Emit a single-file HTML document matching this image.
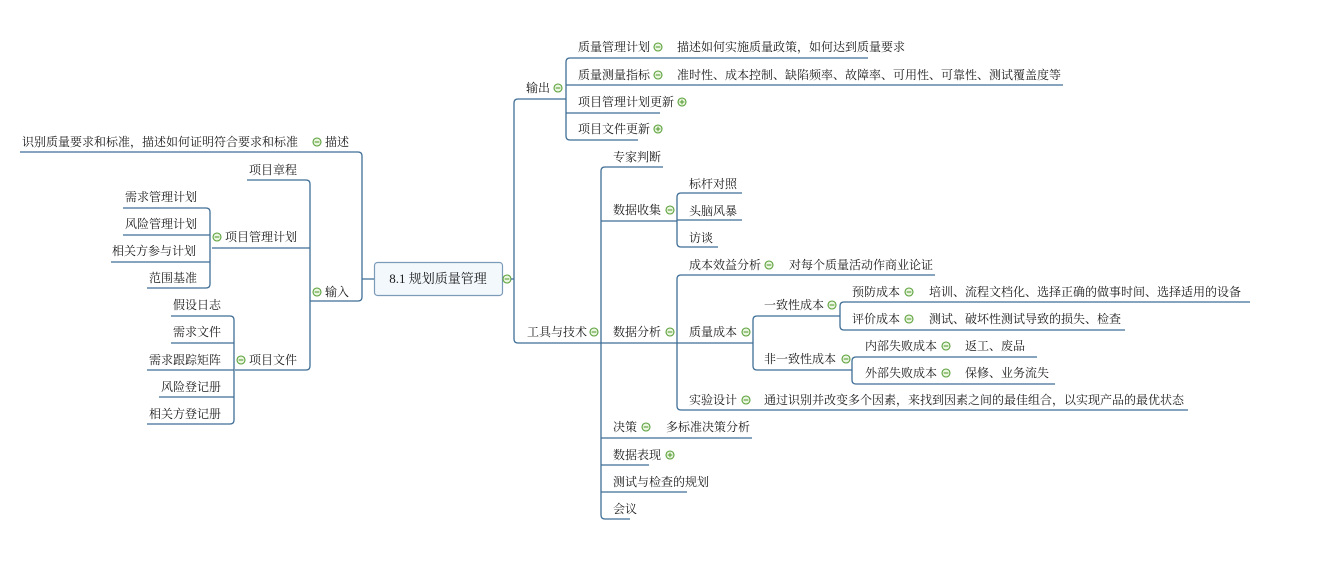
<!DOCTYPE html>
<html><head><meta charset="utf-8"><style>
html,body{margin:0;padding:0;background:#fff;}
svg{display:block;}
text{font-family:"Liberation Serif","Noto Serif CJK SC",serif;font-size:12px;fill:#1a1a1a;}
.l{stroke:#3f6e96;stroke-width:1.3;fill:none;}
.c{fill:#eaf6e0;stroke:#5aa03a;stroke-width:1.1;}
.m{stroke:#5aa03a;stroke-width:1.1;}
</style></head><body>
<svg width="1319" height="561" viewBox="0 0 1319 561" xmlns="http://www.w3.org/2000/svg">
<defs>
<g id="minus"><circle class="c" cx="0" cy="0" r="4"/><line class="m" x1="-2.3" y1="0" x2="2.3" y2="0"/></g>
<g id="plus"><circle class="c" cx="0" cy="0" r="4"/><line class="m" x1="-2.3" y1="0" x2="2.3" y2="0"/><line class="m" x1="0" y1="-2.3" x2="0" y2="2.3"/></g>
</defs>

<!-- root -->
<rect x="374.5" y="262.5" width="128" height="33" rx="3" fill="#f3f8fd" stroke="#7c9bb8" stroke-width="1.2"/>
<text x="438" y="283" text-anchor="middle" style="font-size:13px">8.1 规划质量管理</text>
<use href="#minus" x="507" y="279"/>

<!-- right trunk -->
<path class="l" d="M511,279 H514 M518,99 Q514,99 514,103 V339 Q514,343 518,343 H601 M518,99 H566"/>
<text x="526" y="92">输出</text><use href="#minus" x="558" y="88"/>
<text x="527" y="336">工具与技术</text><use href="#minus" x="594" y="332"/>

<!-- 输出 children -->
<path class="l" d="M570,58 Q566,58 566,62 V136 Q566,140 570,140 H638 M566,85 H1063 M570,58 H868 M566,113 H660"/>
<text x="578" y="51">质量管理计划</text><use href="#minus" x="658" y="47"/><text x="677" y="51">描述如何实施质量政策，如何达到质量要求</text>
<text x="578" y="79">质量测量指标</text><use href="#minus" x="658" y="75"/><text x="677" y="79">准时性、成本控制、缺陷频率、故障率、可用性、可靠性、测试覆盖度等</text>
<text x="578" y="106">项目管理计划更新</text><use href="#plus" x="682" y="102"/>
<text x="578" y="133">项目文件更新</text><use href="#plus" x="658" y="129"/>

<!-- 工具与技术 children -->
<path class="l" d="M605,167 Q601,167 601,171 V515 Q601,519 605,519 H630 M605,167 H663 M601,221 H677 M601,343 H677 M601,438 H752 M601,465 H649 M601,492 H687"/>
<text x="613" y="161">专家判断</text>
<text x="613" y="214">数据收集</text><use href="#minus" x="670" y="210"/>
<text x="613" y="336">数据分析</text><use href="#minus" x="670" y="332"/>
<text x="613" y="431">决策</text><use href="#minus" x="646" y="427"/><text x="666" y="431">多标准决策分析</text>
<text x="613" y="459">数据表现</text><use href="#plus" x="670" y="455"/>
<text x="613" y="486">测试与检查的规划</text>
<text x="613" y="513">会议</text>

<!-- 数据收集 children -->
<path class="l" d="M681,193 Q677,193 677,197 V243 Q677,247 681,247 H718 M681,193 H742 M677,220 H742"/>
<text x="689" y="188">标杆对照</text>
<text x="689" y="215">头脑风暴</text>
<text x="689" y="242">访谈</text>

<!-- 数据分析 children -->
<path class="l" d="M681,275 Q677,275 677,279 V406 Q677,410 681,410 H1188 M681,275 H935 M677,343 H753"/>
<text x="689" y="269">成本效益分析</text><use href="#minus" x="769" y="265"/><text x="789" y="269">对每个质量活动作商业论证</text>
<text x="689" y="336">质量成本</text><use href="#minus" x="746" y="332"/>
<text x="689" y="404">实验设计</text><use href="#minus" x="746" y="400"/><text x="764" y="404">通过识别并改变多个因素，来找到因素之间的最佳组合，以实现产品的最优状态</text>

<!-- 质量成本 children -->
<path class="l" d="M757,316 Q753,316 753,320 V366 Q753,370 757,370 H852 M757,316 H840"/>
<text x="764" y="309">一致性成本</text><use href="#minus" x="832" y="305"/>
<text x="764" y="363">非一致性成本</text><use href="#minus" x="846" y="359"/>

<path class="l" d="M844,302 Q840,302 840,306 V326 Q840,330 844,330 H1125 M844,302 H1250"/>
<text x="852" y="296">预防成本</text><use href="#minus" x="909" y="292"/><text x="929" y="296">培训、流程文档化、选择正确的做事时间、选择适用的设备</text>
<text x="852" y="323">评价成本</text><use href="#minus" x="909" y="319"/><text x="929" y="323">测试、破坏性测试导致的损失、检查</text>

<path class="l" d="M856,357 Q852,357 852,361 V380 Q852,384 856,384 H1055 M856,357 H1037"/>
<text x="865" y="350">内部失败成本</text><use href="#minus" x="946" y="346"/><text x="965" y="350">返工、废品</text>
<text x="865" y="377">外部失败成本</text><use href="#minus" x="946" y="373"/><text x="965" y="377">保修、业务流失</text>

<!-- left side -->
<path class="l" d="M374,279 H362 M20,152 H358 Q362,152 362,156 V297 Q362,301 358,301 H310"/>
<use href="#minus" x="317" y="142"/><text x="325" y="146">描述</text>
<text x="22" y="146">识别质量要求和标准，描述如何证明符合要求和标准</text>
<use href="#minus" x="317" y="292"/><text x="325" y="296">输入</text>

<path class="l" d="M247,180 H306 Q310,180 310,184 V366 Q310,370 306,370 H235 M212,248 H310"/>
<text x="249" y="174">项目章程</text>
<use href="#minus" x="217" y="237"/><text x="225" y="241">项目管理计划</text>
<use href="#minus" x="241" y="360"/><text x="249" y="364">项目文件</text>

<path class="l" d="M123,208 H206 Q210,208 210,212 V284 Q210,288 206,288 H147 M123,235 H210 M111,262 H210"/>
<text x="125" y="201">需求管理计划</text>
<text x="125" y="228">风险管理计划</text>
<text x="112" y="255">相关方参与计划</text>
<text x="149" y="282">范围基准</text>

<path class="l" d="M171,316 H230 Q234,316 234,320 V420 Q234,424 230,424 H147 M171,343 H234 M147,370 H234 M159,397 H234"/>
<text x="173" y="309">假设日志</text>
<text x="173" y="336">需求文件</text>
<text x="149" y="364">需求跟踪矩阵</text>
<text x="161" y="391">风险登记册</text>
<text x="149" y="418">相关方登记册</text>
</svg>
</body></html>
